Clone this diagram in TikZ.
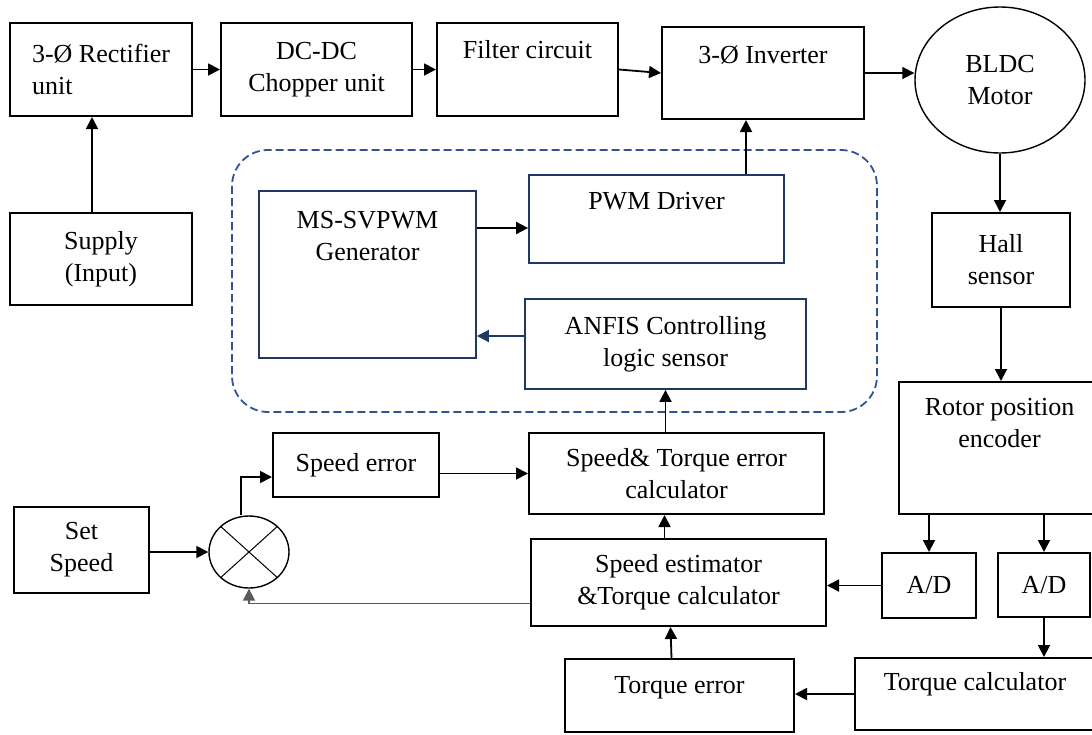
\documentclass[tikz,border=0pt]{standalone}
\usepackage{fontspec}
\setmainfont{Liberation Serif}
\usepackage{tikz}
\usetikzlibrary{arrows.meta,shapes.geometric,positioning}
\definecolor{ctrlblue}{RGB}{31,56,100}
\definecolor{dashblue}{RGB}{47,84,150}
\definecolor{fbgray}{RGB}{90,90,90}
\tikzstyle{arrow} = [line width=0.9pt,->,>={Stealth[length=6pt,width=6pt,inset=0pt]}]
\tikzstyle{block} = [rectangle, draw, line width=1pt, align=center, inner sep=0pt]
\tikzstyle{ctrlblock} = [block, draw=ctrlblue, line width=0.9pt]
\tikzstyle{round} = [ellipse, draw, line width=0.7pt, align=center, inner sep=0pt]

\begin{document}
\begin{tikzpicture}[x=0.5pt, y=-0.5pt, font=\fontsize{13}{16}\selectfont]
\useasboundingbox (0,0) rectangle (1092,734);

% Power stage
\node (rect) [block, align=left, minimum width=91pt, minimum height=46.5pt] at (101,69.5) {3-Ø Rectifier\\unit};
\node (dcdc) [block, minimum width=95.5pt, minimum height=46.5pt] at (316.5,69.5) {DC-DC\\Chopper unit};
\node (filt) [block, minimum width=90.5pt, text height=17.5pt, text depth=29pt] at (527.5,69.5) {Filter circuit};
\node (inv) [block, minimum width=101pt, text height=18pt, text depth=28pt] at (763,73) {3-Ø Inverter};
\node (motor) [round, minimum width=85pt, minimum height=73pt] at (1000,80) {BLDC\\Motor};
\node (supply) [block, minimum width=91pt, minimum height=46pt] at (101,259) {Supply\\(Input)};
\node (hall) [block, minimum width=69pt, minimum height=47pt] at (1001,260) {Hall\\sensor};

% Controller
\draw[dashblue, line width=0.9pt, dash pattern=on 4pt off 2pt, rounded corners=18pt] (232,150) rectangle (877,412);
\node (msgen) [ctrlblock, minimum width=108.5pt, text height=34.5pt, text depth=49pt] at (367.5,274.5) {MS-SVPWM\\Generator};
\node (pwm) [ctrlblock, minimum width=127.5pt, text height=17pt, text depth=27pt] at (656.5,219) {PWM Driver};
\node (anfis) [ctrlblock, minimum width=140.5pt, minimum height=45pt] at (665.5,344) {ANFIS Controlling\\logic sensor};

% Feedback path
\node (serr) [block, minimum width=83pt, minimum height=32pt] at (356,465) {Speed error};
\node (ste) [block, minimum width=147.5pt, minimum height=40.5pt] at (676.5,473.5) {Speed\& Torque error\\calculator};
\node (setspd) [block, minimum width=67.5pt, minimum height=43pt] at (81.5,550) {Set\\Speed};
\node (sum) [round, minimum width=40pt, minimum height=36pt] at (249,552) {};
\draw[line width=0.5pt] (sum.north west) -- (sum.south east) (sum.north east) -- (sum.south west);
\node (sest) [block, minimum width=147.5pt, minimum height=43.5pt] at (678.5,582.5) {Speed estimator\\\&Torque calculator};
\node (terr) [block, minimum width=114.5pt, text height=17pt, text depth=19.5pt] at (679.5,695.5) {Torque error};
\node (rotor) [block, minimum width=100.5pt, text height=32.5pt, text depth=33.5pt] at (999.5,448) {Rotor position\\encoder};
\node (ad1) [block, minimum width=47pt, minimum height=32.5pt] at (929,585.5) {A/D};
\node (ad2) [block, minimum width=46pt, minimum height=32pt] at (1044,585) {A/D};
\node (tcalc) [block, minimum width=120pt, text height=16pt, text depth=20pt] at (975,694) {Torque calculator};

% Connections
\draw[arrow] ([xshift=-4.5pt]supply.north) -- ([xshift=-4.5pt]rect.south);
\draw[arrow] (rect.east) -- (dcdc.west);
\draw[arrow] (dcdc.east) -- (filt.west);
\draw[arrow] (filt.east) -- (inv.west);
\draw[arrow] (inv.east) -- (inv.east -| motor.west);
\draw[arrow] (motor.south) -- (motor.south |- hall.north);
\draw[arrow] (hall.south) -- (hall.south |- rotor.north);
\draw[arrow] (rotor.south -| ad1.north) -- (ad1.north);
\draw[arrow] (rotor.south -| ad2.north) -- (ad2.north);
\draw[arrow] (ad2.south) -- (ad2.south |- tcalc.north);
\draw[arrow] (ad1.west) -- (ad1.west -| sest.east);
\draw[arrow] (tcalc.west) -- (tcalc.west -| terr.east);
\draw[arrow] ([xshift=-4pt]terr.north) -- ([xshift=-4pt]sest.south);
\draw[arrow] ([xshift=-7pt]sest.north) -- ([xshift=-7pt]sest.north |- ste.south);
\draw[arrow] (anfis.south |- ste.north) -- (anfis.south);
\draw[arrow] (serr.east |- ste.west) -- (ste.west);
\draw[arrow] (setspd.east |- sum.west) -- (sum.west);
\draw[arrow] ([xshift=-4pt]sum.north) |- ([yshift=-6pt]serr.west);
\draw[arrow, fbgray] ([yshift=-10.5pt]sest.west) -| (sum.south);
\draw[arrow] ([yshift=-4.5pt]pwm.west -| msgen.east) -- ([yshift=-4.5pt]pwm.west);
\draw[arrow, ctrlblue] ([yshift=4pt]anfis.west) -- ([yshift=4pt]anfis.west -| msgen.east);
\draw[arrow] ([xshift=-8.5pt]inv.south |- pwm.north) -- ([xshift=-8.5pt]inv.south);
\end{tikzpicture}
\end{document}
